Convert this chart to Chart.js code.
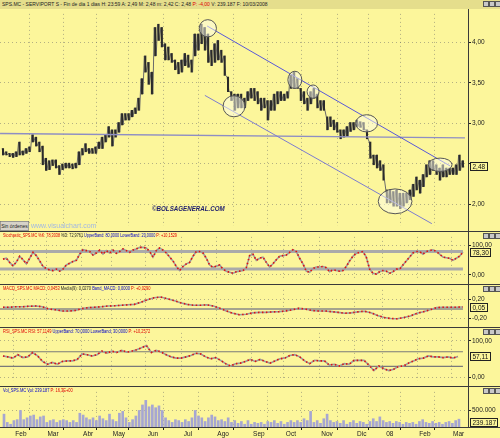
<!DOCTYPE html>
<html>
<head>
<meta charset="utf-8">
<script src="https://cdn.jsdelivr.net/npm/chart.js@4.4.1/dist/chart.umd.min.js"></script>
<style>
  body { margin: 0; width: 500px; height: 438px; background: #fcf69b; position: relative; overflow: hidden; }
  canvas { position: absolute; left: 0; }
  .t { position: absolute; font: 10px "Liberation Sans", Arial, sans-serif; white-space: nowrap; transform-origin: 0 0; color: #222; z-index: 5; }
  .r { color: #e00000; }
  .b { color: #0000cc; }
  .sep { position: absolute; left: 0; width: 500px; height: 1px; background: #3a3a3a; z-index: 4; }
  .ico { position: absolute; width: 4px; height: 4px; background: #c8c8c8; border: 1px solid #555; z-index: 5; }
</style>
</head>
<body>
<div style="position:absolute;left:0;top:0;width:500px;height:9px;background:#e5de8c"></div>

<canvas id="cMain" width="500" height="222" style="top:9px"></canvas>
<canvas id="cStoch" width="500" height="52" style="top:232px"></canvas>
<canvas id="cMacd" width="500" height="42" style="top:285px"></canvas>
<canvas id="cRsi" width="500" height="58" style="top:328px"></canvas>
<canvas id="cVol" width="500" height="51" style="top:387px"></canvas>

<div class="sep" style="top:231px"></div>
<div class="sep" style="top:284px"></div>
<div class="sep" style="top:327px"></div>
<div class="sep" style="top:386px"></div>
<div class="sep" style="top:427px"></div>
<div style="position:absolute;left:468px;top:9px;width:1px;height:419px;background:#3a3a3a;z-index:4"></div>

<div class="t" style="left:2px;top:0px;transform:scale(0.5,0.62)">SPS.MC - SERVIPORT S - Fin de dia 1 dias H: 23:59 A: 2,49 M: 2,48 m: 2,42 C: 2,48 <span class="r">P: -4,00</span> V: 239.187 F: 10/03/2008</div>
<div class="t" style="left:3px;top:232px;transform:scale(0.38,0.55)"><span class="r">Stochastic_SPS.MC %K: 78,3038</span> %D: 72,9761 <span class="b">UpperBand: 80,0000</span> <span class="b">LowerBand: 20,0000</span> <span class="r">P: +10,1529</span></div>
<div class="t" style="left:3px;top:285px;transform:scale(0.4,0.55)"><span class="r">MACD_SPS.MC MACD: 0,0453</span> Media(9): 0,0270 <span class="b">Band_MACD: 0,0000</span> <span class="r">P: +0,0290</span></div>
<div class="t" style="left:3px;top:328px;transform:scale(0.4,0.55)"><span class="r">RSI_SPS.MC RSI: 57,1149</span> <span class="b">UpperBand: 70,0000</span> <span class="b">LowerBand: 30,0000</span> <span class="r">P: +10,2572</span></div>
<div class="t" style="left:3px;top:387px;transform:scale(0.4,0.55)"><span class="b">Vol_SPS.MC Vol: 239.187</span> <span class="r">P: 16,3E+00</span></div>

<div class="t" style="left:0px;top:221px;width:56px;height:16px;background:#d6d2c8;border:1px solid #666;transform:scale(0.5,0.55);text-align:center;line-height:16px">Sin órdenes</div>
<div class="t" style="left:31px;top:221px;color:#a2b8e2;transform:scale(0.7,0.75)">www.visualchart.com</div>
<div class="t" style="left:152px;top:204px;color:#1c1c6e;font-weight:bold;font-style:italic;transform:scale(0.62,0.8)">©BOLSAGENERAL.COM</div>

<div class="ico" style="left:483px;top:1px"></div><div class="ico" style="left:489px;top:1px"></div><div class="ico" style="left:495px;top:1px"></div>
<div class="ico" style="left:483px;top:233px"></div><div class="ico" style="left:489px;top:233px"></div><div class="ico" style="left:495px;top:233px"></div>
<div class="ico" style="left:483px;top:286px"></div><div class="ico" style="left:489px;top:286px"></div><div class="ico" style="left:495px;top:286px"></div>
<div class="ico" style="left:483px;top:329px"></div><div class="ico" style="left:489px;top:329px"></div><div class="ico" style="left:495px;top:329px"></div>
<div class="ico" style="left:483px;top:388px"></div><div class="ico" style="left:489px;top:388px"></div><div class="ico" style="left:495px;top:388px"></div>

<script>
// Datos (SPS.MC, feb 2007 - mar 2008)
const priceHigh = [
  2.69,2.65,2.63,2.63,2.65,2.77,2.66,2.69,2.71,2.86,
  2.83,2.77,2.72,2.57,2.54,2.55,2.55,2.48,2.50,2.51,
  2.51,2.50,2.51,2.65,2.69,2.75,2.69,2.69,2.71,2.77,
  2.83,2.86,2.96,2.92,2.92,3.01,3.12,3.12,3.12,3.16,
  3.19,3.31,3.55,3.83,3.75,3.63,4.18,4.22,4.18,3.98,
  3.94,3.86,3.78,3.75,3.78,3.86,3.84,3.78,4.10,4.10,
  4.22,4.18,4.10,3.90,3.98,4.02,3.90,3.83,3.57,3.39,
  3.36,3.36,3.36,3.31,3.39,3.43,3.43,3.39,3.31,3.31,
  3.28,3.28,3.36,3.39,3.39,3.36,3.39,3.59,3.63,3.55,
  3.43,3.39,3.31,3.39,3.43,3.36,3.28,3.28,3.08,3.08,
  3.04,3.01,2.92,2.92,2.96,3.01,3.01,3.04,3.02,3.01,
  2.92,2.77,2.61,2.61,2.54,2.49,2.18,2.18,2.16,2.18,
  2.14,2.14,2.14,2.18,2.25,2.34,2.30,2.37,2.49,2.54,
  2.54,2.49,2.45,2.49,2.45,2.45,2.45,2.49,2.61,2.54
];
const priceLow = [
  2.61,2.61,2.59,2.58,2.59,2.61,2.61,2.63,2.65,2.77,
  2.72,2.65,2.49,2.42,2.43,2.48,2.45,2.37,2.43,2.45,
  2.45,2.44,2.45,2.49,2.61,2.65,2.63,2.63,2.63,2.69,
  2.69,2.77,2.83,2.72,2.83,2.89,2.98,3.04,3.04,3.08,
  3.12,3.16,3.36,3.63,3.48,3.36,3.83,4.02,3.94,3.78,
  3.78,3.75,3.66,3.61,3.63,3.71,3.69,3.63,3.83,3.90,
  3.98,3.90,3.75,3.71,3.75,3.78,3.75,3.59,3.39,3.28,
  3.16,3.19,3.19,3.19,3.28,3.31,3.28,3.24,3.16,3.19,
  3.04,3.16,3.16,3.24,3.28,3.28,3.31,3.43,3.43,3.43,
  3.28,3.24,3.16,3.24,3.31,3.19,3.16,3.16,2.92,2.96,
  2.92,2.89,2.81,2.83,2.84,2.90,2.92,2.96,2.95,2.92,
  2.81,2.57,2.49,2.45,2.42,2.30,2.02,2.02,1.98,1.98,
  1.95,1.98,2.02,2.06,2.10,2.18,2.14,2.22,2.34,2.37,
  2.42,2.37,2.30,2.34,2.34,2.37,2.37,2.37,2.42,2.46
];
const stochK = [
  54,57,43,31,44,64,52,38,57,77, 66,48,29,22,17,15,20,13,20,34,
  40,46,50,71,86,83,80,68,75,85, 71,83,75,85,74,80,89,83,77,85,
  89,94,94,92,80,61,83,92,85,75, 61,48,29,15,29,38,43,64,80,80,
  75,57,34,26,30,34,20,13,9,6, 11,13,15,25,
  66,71,50,57,61,43,27,38,52,64, 66,68,77,86,80,57,38,13,9,22,
  27,27,29,25,11,18,15,13,15,29, 48,64,74,77,80,61,20,6,3,11,
  15,13,6,11,20,20,34,48,61,75, 80,80,71,80,83,86,80,71,61,59,
  57,50,57,64,78.3
];
const macdLine = [
  0.04,0.04,0.05,0.05,0.06,0.065,0.05,0.0,-0.016,-0.04,
  -0.04,-0.03,0.01,0.03,0.04,0.05,0.065,0.07,0.08,0.09,
  0.10,0.146,0.20,0.24,0.255,0.22,0.18,0.135,0.10,0.08,
  0.08,0.09,0.065,0.016,-0.04,-0.09,-0.12,-0.11,
  -0.08,-0.07,-0.07,-0.06,-0.055,-0.04,-0.016,0.016,0,-0.03,
  -0.04,-0.04,-0.055,-0.07,-0.09,-0.08,-0.06,-0.045,-0.08,-0.135,
  -0.18,-0.20,-0.205,-0.18,-0.145,-0.09,-0.055,-0.016,0.03,0.04,
  0.04,0.04,0.045
];
const rsiLine = [
  58.6,56,52.7,62,54,56,68,58.6,43.6,36, 41,36,43.6,45,45,49,64,62,58.6,62,
  71.6,66,71.6,68,74,69,71.6,75.5,81,87, 68,74,69,62,56,52.7,52.7,56,60,66,
  64,56,51,54,46.6,37.5,31,37.5,39,43.6,
  49,43.6,49,43.6,39,45,51,52.7,60,62, 56,45,37.5,46.6,45,45,33.6,36,31,37.5,
  36,46.6,46.6,46.6,33.6,18.6,31,23.9,18.6,22.3, 30,31,39,45,51,52.7,58.6,56,56,54,
  56,52.7,57.1
];
// volumen en miles de títulos
const volumeK = [
  392,140,84,196,224,504,224,280,336,364, 224,308,336,140,196,224,140,196,224,196,
  140,196,140,420,364,280,224,280,196,336, 252,196,392,224,168,420,476,280,140,224,
  336,504,672,812,616,672,588,644,504,280, 196,140,224,196,140,224,168,280,504,336,
  280,168,280,364,308,196,224,168,280,140, 196,112,168,84,
  196,84,140,112,140,84,168,140,196,112, 168,84,140,196,140,196,140,252,196,476,
  140,196,112,252,392,196,140,168,112,196, 84,140,196,112,168,140,84,168,252,168,
  308,196,140,168,112,168,140,84,140,112, 140,84,168,224,140,112,168,112,140,84,
  140,168,112,196,239
];
const monthPos = [3.3, 13.0, 23.6, 32.9, 43.2, 53.8, 64.4, 75.2, 84.9, 95.8, 106.3, 114.8, 125.4, 135.6];
const monthLabels = ['Feb','Mar','Abr','May','Jun','Jul','Ago','Sep','Oct','Nov','Dic','08','Feb','Mar'];
const priceTicks = [2, 2.5, 3, 3.5, 4];
const stochBands = [80, 20];
const rsiBands = [70, 30];
// líneas de tendencia [índice, precio]
const supportLine = [[-0.9, 2.875], [139.6, 2.82]];
const channelTop = [[61.7, 4.198], [135.1, 2.476]];
const channelBottom = [[61.0, 3.344], [129.6, 1.765]];
// elipses [índice, precio, radio x, radio y]
const ellipseMarks = [
  [61.9, 4.17, 2.6, 0.106],
  [69.8, 3.21, 3.3, 0.13],
  [88.2, 3.535, 2.1, 0.106],
  [93.7, 3.39, 1.8, 0.082],
  [109.9, 3.0, 3.3, 0.106],
  [118.5, 2.04, 5.1, 0.153],
  [132.1, 2.49, 3.6, 0.082]
];

const X_MIN = -0.91, X_MAX = 140.53;
const FONT = '"Liberation Sans", Arial, sans-serif';
const GRID = 'rgba(105,105,105,0.5)';

function spread(values, x0, x1) {
  const step = (x1 - x0) / (values.length - 1);
  return values.map((v, i) => ({ x: x0 + i * step, y: v }));
}
function toPts(seg) { return seg.map(p => ({ x: p[0], y: p[1] })); }
function comma(d) { return v => v.toFixed(d).replace('.', ','); }

// Elipses de las zonas marcadas
const ellipses = {
  id: 'ellipses',
  afterDatasetsDraw(chart, args, o) {
    if (!o.items) return;
    const { ctx } = chart, xs = chart.scales.x, ys = chart.scales.y;
    ctx.save();
    o.items.forEach(e => {
      const cx = xs.getPixelForValue(e[0]), cy = ys.getPixelForValue(e[1]);
      const rx = Math.abs(xs.getPixelForValue(e[0] + e[2]) - cx);
      const ry = Math.abs(ys.getPixelForValue(e[1] + e[3]) - cy);
      ctx.beginPath();
      ctx.ellipse(cx, cy, rx, ry, 0, 0, Math.PI * 2);
      ctx.fillStyle = 'rgba(252,252,236,0.5)';
      ctx.fill();
      ctx.strokeStyle = '#555';
      ctx.lineWidth = 1;
      ctx.stroke();
    });
    ctx.restore();
  }
};

// Recuadro con el último valor en el eje derecho
const valueBox = {
  id: 'valueBox',
  afterDraw(chart, args, o) {
    if (!o.text) return;
    const { ctx, chartArea } = chart;
    ctx.save();
    ctx.font = '6.5px ' + FONT;
    const w = Math.round(ctx.measureText(o.text).width) + 4, h = 8;
    let y = o.pinBottom ? chartArea.bottom - h / 2 - 1 : chart.scales.y.getPixelForValue(o.value);
    y = Math.max(chartArea.top + h / 2, Math.min(chartArea.bottom - h / 2, y));
    const x = chartArea.right + 2, top = Math.round(y - h / 2);
    ctx.fillStyle = '#fcf69b';
    ctx.fillRect(x, top, w, h);
    ctx.strokeStyle = '#222';
    ctx.lineWidth = 1;
    ctx.strokeRect(x + 0.5, top + 0.5, w, h);
    ctx.fillStyle = '#111';
    ctx.textBaseline = 'middle';
    ctx.fillText(o.text, x + 2.5, top + h / 2 + 1);
    ctx.restore();
  }
};

function baseOptions(yMin, yMax, yTicks, fmt, showMonths, extra) {
  return {
    responsive: false,
    animation: false,
    events: [],
    layout: { padding: 0, autoPadding: false },
    plugins: Object.assign({ legend: { display: false }, tooltip: { enabled: false } }, extra),
    scales: {
      x: {
        type: 'linear', min: X_MIN, max: X_MAX, offset: false,
        afterBuildTicks: s => { s.ticks = monthPos.map(v => ({ value: v })); },
        afterFit: s => { s.height = showMonths ? 11 : 0; },
        grid: { color: GRID, drawTicks: showMonths, tickLength: 3, tickColor: '#222' },
        border: { display: false, dash: [1, 3] },
        ticks: {
          display: showMonths, autoSkip: false, maxRotation: 0, padding: 0, labelOffset: 7,
          font: { family: FONT, size: 6.5 }, color: '#222',
          callback: (v, i) => monthLabels[i]
        }
      },
      y: {
        position: 'right', min: yMin, max: yMax,
        afterBuildTicks: s => { s.ticks = yTicks.map(v => ({ value: v })); },
        afterFit: s => { s.width = 32; },
        grid: { color: GRID, drawTicks: true, tickLength: 3, tickColor: '#222' },
        border: { display: false, dash: [1, 3] },
        ticks: { padding: 1, font: { family: FONT, size: 6.5 }, color: '#222', callback: fmt }
      }
    }
  };
}

function seriesSets(values, x0, x1) {
  const pts = spread(values, x0, x1);
  return [
    { type: 'line', data: pts, borderColor: '#e01010', borderWidth: 1.6, borderDash: [1.5, 2.5], pointRadius: 0 },
    { type: 'line', data: pts, borderColor: '#9c9c9c', borderWidth: 1.6, pointRadius: 0 }
  ];
}
function hline(v, color, w) {
  return { type: 'line', data: [{ x: X_MIN, y: v }, { x: 139, y: v }], borderColor: color, borderWidth: w, pointRadius: 0 };
}

Chart.register(ellipses, valueBox);

// trazo en zigzag entre máximos y mínimos de cada sesión, para unir las barras
const zigzag = [];
priceHigh.forEach((h, i) => { zigzag.push({ x: i - 0.3, y: h }, { x: i + 0.3, y: priceLow[i] }); });

// Precio
new Chart(document.getElementById('cMain'), {
  type: 'bar',
  data: {
    datasets: [
      { type: 'line', data: toPts(channelTop), borderColor: '#5858d8', borderWidth: 1, pointRadius: 0 },
      { type: 'line', data: toPts(channelBottom), borderColor: '#7c7cd0', borderWidth: 1, pointRadius: 0 },
      { type: 'line', data: toPts(supportLine), borderColor: '#8e8ec4', borderWidth: 1.3, pointRadius: 0 },
      { type: 'bar', data: priceHigh.map((h, i) => ({ x: i, y: [priceLow[i], h] })), backgroundColor: '#2a2a2a', barThickness: 1.4 },
      { type: 'line', data: zigzag, borderColor: '#6a6a6a', borderWidth: 1, pointRadius: 0 }
    ]
  },
  options: baseOptions(1.735, 4.347, priceTicks, v => v === 2.5 ? '' : comma(2)(v), false,
    { ellipses: { items: ellipseMarks }, valueBox: { value: 2.48, text: '2,48' } })
});

// Estocástico
new Chart(document.getElementById('cStoch'), {
  type: 'line',
  data: { datasets: [...seriesSets(stochK, 0, 139), ...stochBands.map(b => hline(b, '#aaaaaa', 3))] },
  options: baseOptions(-14.1, 129.9, [0, 100], comma(2), false, { valueBox: { value: 78.3, text: '78,30' } })
});

// MACD
new Chart(document.getElementById('cMacd'), {
  type: 'line',
  data: { datasets: [...seriesSets(macdLine, 0, 139), hline(0, '#888888', 1.5)] },
  options: baseOptions(-0.2764, 0.4065, [-0.2, 0.2], comma(2), false, { valueBox: { value: 0.045, text: '0,05' } })
});

// RSI
new Chart(document.getElementById('cRsi'), {
  type: 'line',
  data: { datasets: [...seriesSets(rsiLine, 0, 137.5), ...rsiBands.map(b => hline(b, '#7a7a7a', 1.2))] },
  options: baseOptions(-10.2, 121.6, [0, 100], comma(2), false, { valueBox: { value: 57.11, text: '57,11' } })
});

// Volumen
new Chart(document.getElementById('cVol'), {
  type: 'bar',
  data: { datasets: [{ data: spread(volumeK, 0.3, 137.8), backgroundColor: '#a6a6d2', barThickness: 2 }] },
  options: baseOptions(0, 1070, [500], v => v.toLocaleString('es-ES') + '.000', true,
    { valueBox: { pinBottom: true, text: '239.187' } })
});
</script>
</body>
</html>
